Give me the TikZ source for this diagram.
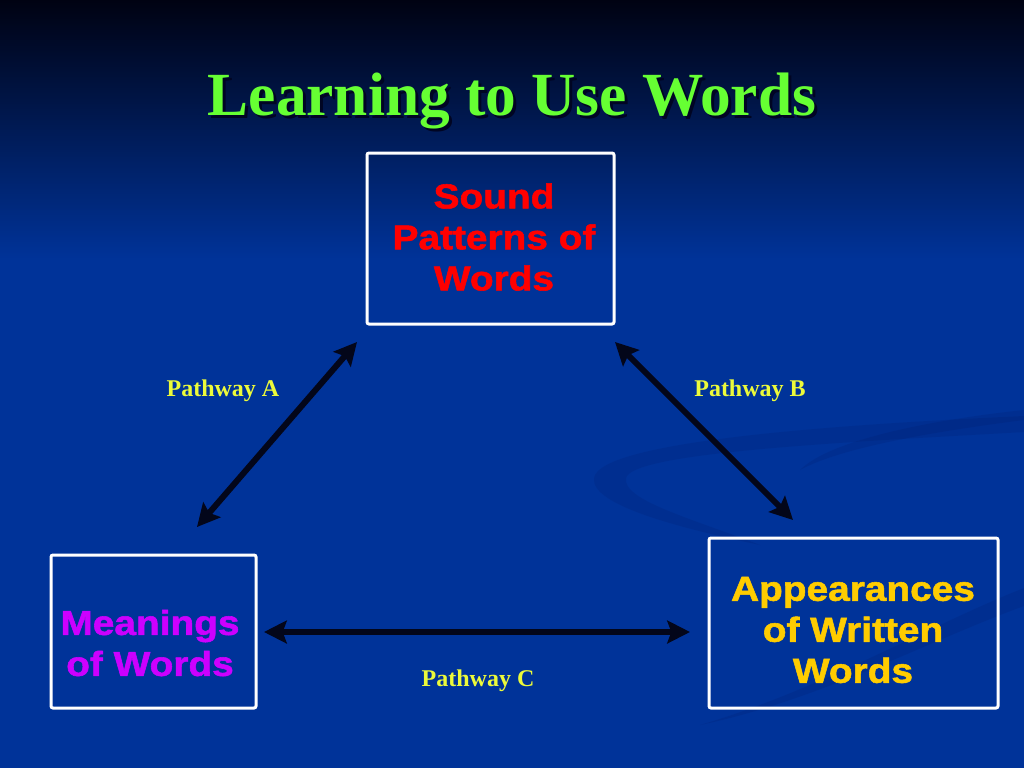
\documentclass[tikz,border=0pt]{standalone}
\usepackage{fontspec}
\setmainfont{Liberation Serif}
\newfontfamily\boxfont[FakeStretch=1.12,FakeBold=1.6]{Liberation Sans}
\usetikzlibrary{arrows.meta}

\tikzset{every picture/.style={line width=0.75pt}}
\tikzset{
  wordbox/.style={draw={rgb,255:red,255;green,255;blue,255}, line width=2.25pt, rounded corners=1.5pt, inner sep=0pt},
  boxtext/.style={font=\boxfont\bfseries\fontsize{26}{30.75}\selectfont, align=center, inner sep=0pt},
  pathlabel/.style={anchor=base, inner sep=0pt, font=\bfseries\fontsize{18}{21}\selectfont, text={rgb,255:red,236;green,250;blue,58}},
  titletext/.style={anchor=base, inner sep=0pt, font=\bfseries\fontsize{46}{52}\selectfont},
  pathway/.style={draw={rgb,255:red,3;green,6;blue,26}, line width=4.5pt, {Stealth[length=17pt,width=17pt,inset=3pt]}-{Stealth[length=17pt,width=17pt,inset=3pt]}},
  swoosh/.style={fill={rgb,255:red,0;green,28;blue,105}, fill opacity=0.18},
}

\begin{document}
\begin{tikzpicture}[x=0.75pt,y=0.75pt,yscale=-1,xscale=1]
\useasboundingbox (0,0) rectangle (1024,768);

%Shape: Background
\fill [color={rgb, 255:red, 0; green, 51; blue, 153 }] (0,0) rectangle (1024,768);
\shade [top color={rgb, 255:red, 0; green, 2; blue, 18 }, bottom color={rgb, 255:red, 0; green, 51; blue, 153 }] (0,0) rectangle (1024,260);
%Curve Lines: swooshes
\fill [swoosh] (1024,416) .. controls (850,424) and (600,440) .. (594,478) .. controls (590,505) and (680,528) .. (760,545) .. controls (690,518) and (622,500) .. (626,478) .. controls (632,452) and (850,442) .. (1024,432) -- cycle ;
\fill [swoosh] (800,470) .. controls (830,440) and (930,420) .. (1024,410) -- (1024,420) .. controls (930,432) and (840,448) .. (800,470) -- cycle ;
\fill [swoosh] (700,725) .. controls (820,690) and (930,625) .. (1024,588) -- (1024,606) .. controls (930,640) and (820,700) .. (700,725) -- cycle ;

% Text Node
\node [titletext, text={rgb, 255:red, 0; green, 5; blue, 35 }] (titleshadow) at (515,118) {Learning to Use Words};
\node [titletext, text={rgb, 255:red, 102; green, 255; blue, 51 }] (title) at (512,115) {Learning to Use Words};

%Shape: Rectangle
\node [wordbox, minimum width=185.25pt, minimum height=128.25pt] (sound) at (490.5,238.5) {};
\node [wordbox, minimum width=153.75pt, minimum height=114.75pt] (meaning) at (153.5,631.5) {};
\node [wordbox, minimum width=216.75pt, minimum height=127.5pt] (appear) at (853.5,623) {};

% Text Node
\node [boxtext, text={rgb, 255:red, 255; green, 0; blue, 0 }] (soundtext) at (494,237) {Sound\\Patterns of\\Words};
\node [boxtext, text={rgb, 255:red, 204; green, 0; blue, 255 }] (meaningtext) at (150,643) {Meanings\\of Words};
\node [boxtext, text={rgb, 255:red, 255; green, 204; blue, 0 }] (appeartext) at (853,630) {Appearances\\of Written\\Words};

%Straight Lines
\coordinate (aLow) at (197,527);
\coordinate (aHigh) at (357,342);
\coordinate (bHigh) at (615,342);
\coordinate (bLow) at (793,520);
\coordinate (cLeft) at (264,632);
\coordinate (cRight) at (690,632);
\draw [pathway] (aLow) -- (aHigh);
\draw [pathway] (bHigh) -- (bLow);
\draw [pathway] (cLeft) -- (cRight);

% Text Node
\node [pathlabel] (labelA) at (223,396) {Pathway A};
\node [pathlabel] (labelB) at (750,396) {Pathway B};
\node [pathlabel] (labelC) at (478,686) {Pathway C};

\end{tikzpicture}
\end{document}
